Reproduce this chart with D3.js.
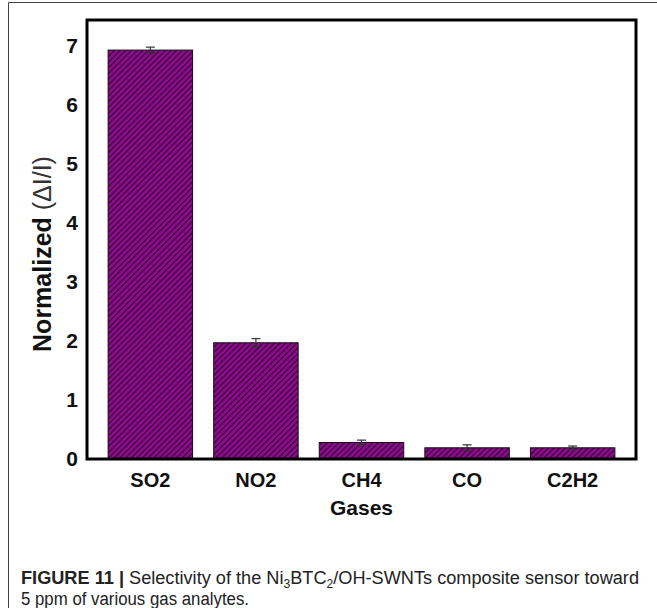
<!DOCTYPE html>
<html>
<head>
<meta charset="utf-8">
<script src="https://cdn.jsdelivr.net/npm/d3@7"></script>
<style>
  html, body { margin: 0; padding: 0; background: #fff; }
  svg { display: block; }
</style>
</head>
<body>
<svg id="chart" width="657" height="608"></svg>
<script>
// Gas selectivity data (normalized response, ΔI/I)
const gases = ["SO2", "NO2", "CH4", "CO", "C2H2"];
const responses = [6.93, 1.97, 0.28, 0.19, 0.19];
const errors = [0.05, 0.07, 0.04, 0.05, 0.03];
const yTicks = [0, 1, 2, 3, 4, 5, 6, 7];

const svg = d3.select("#chart");

// Figure panel border (left and top rules)
svg.append("line").attr("x1", 8.5).attr("x2", 8.5).attr("y1", 2.5).attr("y2", 608)
  .attr("stroke", "#444").attr("stroke-width", 1);
svg.append("line").attr("x1", 8.5).attr("x2", 657).attr("y1", 2.5).attr("y2", 2.5)
  .attr("stroke", "#444").attr("stroke-width", 1);

const plot = { left: 87, right: 636, top: 20, bottom: 459 };

const x = d3.scaleBand().domain(gases).range([plot.left, plot.right]).padding(0.2);
const y = d3.scaleLinear().domain([0, 7.44]).range([plot.bottom, plot.top]);

// Diagonal hatch fill for the bars
const defs = svg.append("defs");
const pat = defs.append("pattern")
  .attr("id", "hatch")
  .attr("patternUnits", "userSpaceOnUse")
  .attr("width", 4).attr("height", 4)
  .attr("patternTransform", "rotate(45)");
pat.append("rect").attr("width", 4).attr("height", 4).attr("fill", "#8e0a8e");
pat.append("line").attr("x1", 0).attr("x2", 0).attr("y1", 0).attr("y2", 4)
  .attr("stroke", "#2a0a2a").attr("stroke-width", 2.2);

const data = gases.map((g, i) => ({ g, v: responses[i], e: errors[i] }));

// Bars
svg.append("g").selectAll("rect").data(data).join("rect")
  .attr("x", d => x(d.g))
  .attr("y", d => y(d.v))
  .attr("width", x.bandwidth())
  .attr("height", d => y(0) - y(d.v))
  .attr("fill", "url(#hatch)")
  .attr("stroke", "#111")
  .attr("stroke-width", 1);

// Error bars
const eb = svg.append("g").attr("stroke", "#333").attr("stroke-width", 1.2);
data.forEach(d => {
  const cx = x(d.g) + x.bandwidth() / 2;
  eb.append("line").attr("x1", cx).attr("x2", cx).attr("y1", y(d.v + d.e)).attr("y2", y(d.v - d.e));
  eb.append("line").attr("x1", cx - 4.5).attr("x2", cx + 4.5).attr("y1", y(d.v + d.e)).attr("y2", y(d.v + d.e));
  eb.append("line").attr("x1", cx - 4.5).attr("x2", cx + 4.5).attr("y1", y(d.v - d.e)).attr("y2", y(d.v - d.e));
});

// Plot frame
svg.append("rect")
  .attr("x", plot.left).attr("y", plot.top)
  .attr("width", plot.right - plot.left).attr("height", plot.bottom - plot.top)
  .attr("fill", "none").attr("stroke", "#000").attr("stroke-width", 3);

// Y axis labels
const yAxis = d3.axisLeft(y).tickValues(yTicks).tickSize(0).tickPadding(9).tickFormat(d3.format("d"));
const gy = svg.append("g").attr("transform", `translate(${plot.left},0)`).call(yAxis);
gy.select(".domain").remove();
gy.selectAll("text")
  .attr("font-family", "Liberation Sans, Arial, sans-serif")
  .attr("font-weight", "bold").attr("font-size", 21).attr("fill", "#111");

// X axis labels
const xAxis = d3.axisBottom(x).tickSize(0).tickPadding(14);
const gx = svg.append("g").attr("transform", `translate(0,${plot.bottom})`).call(xAxis);
gx.select(".domain").remove();
gx.selectAll("text")
  .attr("font-family", "Liberation Sans, Arial, sans-serif")
  .attr("font-weight", "bold").attr("font-size", 20).attr("fill", "#111");

// Axis titles
svg.append("text")
  .attr("x", (plot.left + plot.right) / 2).attr("y", 515)
  .attr("text-anchor", "middle")
  .attr("font-family", "Liberation Sans, Arial, sans-serif")
  .attr("font-weight", "bold").attr("font-size", 21).attr("fill", "#111")
  .text("Gases");

const yt = svg.append("text")
  .attr("transform", "translate(51,254) rotate(-90)")
  .attr("text-anchor", "middle")
  .attr("font-family", "Liberation Sans, Arial, sans-serif")
  .attr("font-size", 25).attr("fill", "#111");
yt.append("tspan").attr("font-weight", "bold").text("Normalized ");
yt.append("tspan").attr("font-weight", "normal").attr("fill", "#333").text("(ΔI/I)");

// Caption
const cap = svg.append("g")
  .attr("font-family", "Liberation Sans Narrow, Liberation Sans, Arial, sans-serif")
  .attr("font-size", 18).attr("fill", "#222");
const l1 = cap.append("text").attr("x", 21).attr("y", 584)
  .attr("textLength", 618).attr("lengthAdjust", "spacingAndGlyphs");
l1.append("tspan").attr("font-weight", "bold").text("FIGURE 11 | ");
l1.append("tspan").text("Selectivity of the Ni");
l1.append("tspan").attr("font-size", 12).attr("dy", 4).text("3");
l1.append("tspan").attr("dy", -4).text("BTC");
l1.append("tspan").attr("font-size", 12).attr("dy", 4).text("2");
l1.append("tspan").attr("dy", -4).text("/OH-SWNTs composite sensor toward");
cap.append("text").attr("x", 21).attr("y", 605)
  .attr("textLength", 228).attr("lengthAdjust", "spacingAndGlyphs")
  .text("5 ppm of various gas analytes.");
</script>
</body>
</html>
